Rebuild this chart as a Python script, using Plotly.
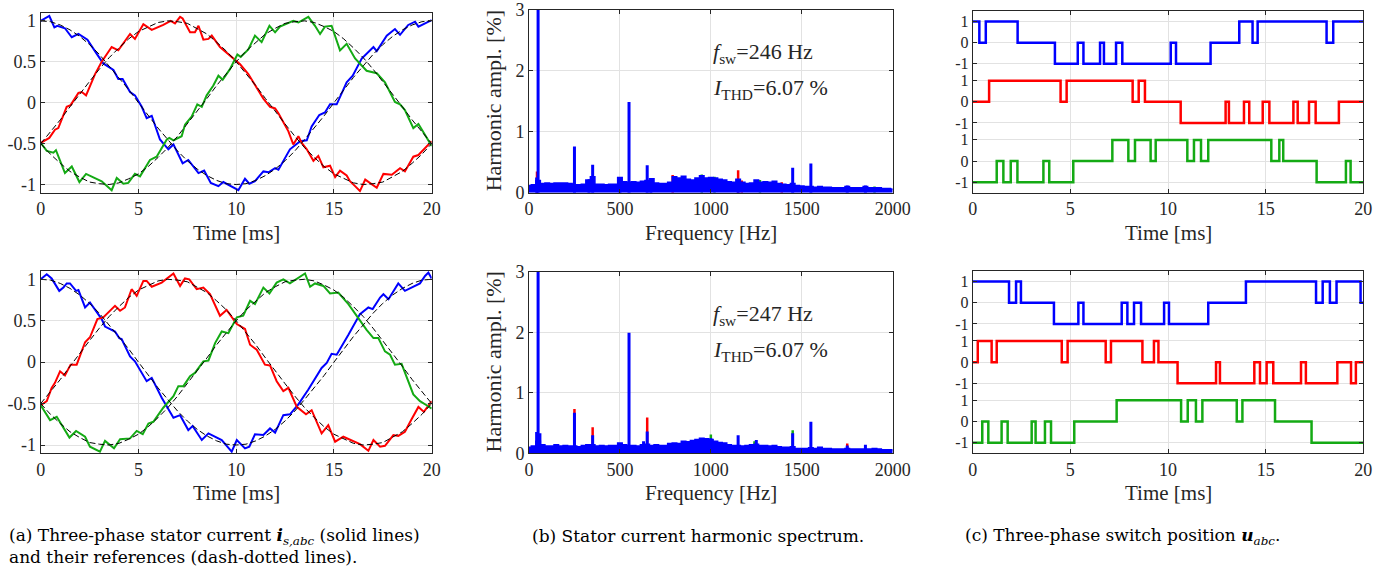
import plotly.graph_objects as go

W, H = 1386, 570
BLUE = 'rgb(0,0,255)'
RED = 'rgb(255,0,0)'
GREEN = 'rgb(20,170,20)'
FONT = 'Liberation Serif'

######################################################## (a) stator currents
# (time [ms], current [pu])
ia_top = [(0, 1.0), (0.44, 1.06), (0.7, 0.92), (0.85, 0.94), (1.24, 0.91), (1.59, 0.80), (1.93, 0.84),
          (2.39, 0.77), (2.86, 0.60), (3.2, 0.48), (3.72, 0.40), (3.97, 0.29), (4.19, 0.29), (4.57, 0.13),
          (4.82, 0.09), (5.17, -0.05), (5.42, -0.19), (5.68, -0.16), (6.1, -0.45), (6.53, -0.57),
          (6.79, -0.51), (7.26, -0.74), (7.55, -0.70), (8.07, -0.86), (8.36, -0.83), (8.7, -0.98),
          (9.09, -1.02), (9.34, -0.97), (10.11, -1.07), (10.45, -0.93), (10.67, -0.99), (10.96, -0.96),
          (11.39, -0.84), (11.65, -0.85), (11.99, -0.80), (12.16, -0.82), (12.75, -0.57), (13.27, -0.47),
          (13.61, -0.46), (13.86, -0.29), (14.25, -0.15), (14.54, -0.12), (14.8, -0.02), (15.14, -0.02),
          (15.65, 0.25), (15.96, 0.33), (16.42, 0.54), (17.02, 0.68), (17.19, 0.63), (17.7, 0.82),
          (18.12, 0.90), (18.38, 0.83), (18.8, 0.95), (19.15, 0.99), (19.32, 0.93), (20, 1.01)]
ib_top = [(0, -0.49), (0.44, -0.43), (0.73, -0.33), (0.9, -0.31), (1.33, -0.05), (1.53, -0.03), (1.93, 0.12),
          (2.1, 0.13), (2.32, 0.09), (2.78, 0.35), (3.12, 0.50), (3.63, 0.68), (3.97, 0.64), (4.26, 0.73),
          (4.57, 0.84), (4.82, 0.78), (5.25, 0.96), (5.68, 0.89), (6.27, 0.95), (6.65, 1.0), (6.87, 0.97),
          (7.13, 1.05), (7.26, 1.03), (7.64, 0.86), (7.89, 0.86), (8.07, 0.94), (8.32, 0.77), (8.58, 0.78),
          (8.75, 0.82), (9.17, 0.68), (9.94, 0.52), (10.2, 0.47), (10.62, 0.35), (10.96, 0.21), (11.39, 0.05),
          (11.73, -0.05), (11.99, -0.07), (12.16, -0.13), (12.67, -0.35), (12.92, -0.51), (13.18, -0.41),
          (13.35, -0.49), (13.61, -0.57), (13.95, -0.71), (14.2, -0.65), (14.46, -0.79), (14.8, -0.77),
          (15.06, -0.91), (15.31, -0.83), (15.65, -0.89), (15.82, -0.96), (16.08, -1.02), (16.33, -1.08),
          (16.6, -0.94), (17.19, -1.04), (17.53, -0.87), (17.96, -0.88), (18.38, -0.80), (18.63, -0.84),
          (19.06, -0.66), (19.32, -0.64), (20, -0.47)]
ic_top = [(0, -0.49), (0.31, -0.59), (0.65, -0.61), (0.78, -0.58), (1.24, -0.86), (1.59, -0.78), (1.98, -0.97),
          (2.32, -0.87), (3.12, -0.96), (3.63, -1.07), (3.89, -0.92), (4.23, -0.99), (4.48, -0.98),
          (4.82, -0.87), (5.08, -0.90), (5.59, -0.70), (5.93, -0.66), (6.45, -0.45), (6.58, -0.43),
          (6.79, -0.46), (7.21, -0.41), (7.38, -0.27), (7.72, -0.17), (8.01, -0.02), (8.24, -0.05),
          (8.49, 0.09), (8.83, 0.21), (9.09, 0.33), (9.31, 0.28), (9.68, 0.41), (10.06, 0.59), (10.23, 0.56),
          (10.62, 0.65), (10.96, 0.82), (11.3, 0.74), (11.7, 0.94), (11.99, 0.86), (12.24, 0.93), (12.92, 1.0),
          (13.18, 0.98), (13.69, 1.05), (14.03, 0.94), (14.29, 0.84), (14.54, 0.93), (14.88, 0.94),
          (15.31, 0.64), (15.65, 0.72), (16.08, 0.54), (16.67, 0.39), (17.19, 0.36), (17.61, 0.25),
          (18.12, 0.01), (18.38, -0.02), (18.63, -0.09), (19.06, -0.31), (19.32, -0.26), (20, -0.53)]

ia_bot = [(0, 1.0), (0.31, 1.06), (0.56, 1.01), (0.95, 0.86), (1.16, 0.90), (1.33, 0.95), (1.5, 0.95),
          (1.81, 0.86), (1.93, 0.87), (2.27, 0.66), (2.52, 0.72), (3.12, 0.52), (3.29, 0.43), (3.8, 0.37),
          (4.02, 0.29), (4.14, 0.28), (4.57, 0.07), (4.82, 0.01), (5.42, -0.23), (5.68, -0.19), (6.19, -0.43),
          (6.53, -0.56), (6.79, -0.67), (7.13, -0.64), (7.55, -0.82), (7.77, -0.77), (8.24, -0.94),
          (8.58, -0.86), (9.26, -0.94), (9.77, -1.08), (10.03, -0.94), (10.45, -1.04), (10.67, -1.02),
          (10.96, -0.87), (11.39, -0.88), (11.73, -0.80), (11.99, -0.85), (12.41, -0.64), (12.75, -0.63),
          (13.18, -0.51), (13.52, -0.39), (13.69, -0.33), (14.37, -0.07), (14.63, -0.01), (14.88, 0.10),
          (15.14, 0.09), (15.74, 0.33), (16.33, 0.58), (16.76, 0.66), (16.98, 0.64), (17.36, 0.78),
          (17.53, 0.82), (17.79, 0.76), (18.29, 0.95), (18.63, 0.86), (19.4, 0.95), (19.66, 1.04),
          (19.83, 1.08), (20, 1.01)]
ib_bot = [(0, -0.52), (0.31, -0.47), (0.56, -0.31), (0.73, -0.25), (0.99, -0.11), (1.24, -0.16), (1.53, -0.03),
          (1.84, -0.03), (2.27, 0.24), (2.52, 0.30), (2.9, 0.52), (3.2, 0.54), (3.8, 0.68), (4.06, 0.62),
          (4.31, 0.66), (4.65, 0.88), (4.91, 0.80), (5.25, 0.98), (5.42, 0.98), (5.68, 0.91), (6.19, 0.96),
          (6.79, 1.07), (7.13, 0.92), (7.38, 1.01), (7.6, 1.0), (7.98, 0.88), (8.32, 0.90), (8.66, 0.82),
          (9.17, 0.56), (9.51, 0.63), (10.03, 0.46), (10.45, 0.40), (10.71, 0.21), (11.05, 0.15),
          (11.47, -0.03), (11.73, -0.04), (12.07, -0.23), (12.41, -0.35), (12.67, -0.31), (13.1, -0.54),
          (13.57, -0.63), (13.86, -0.58), (14.37, -0.86), (14.71, -0.76), (15.06, -0.96), (15.48, -0.90),
          (16.33, -0.99), (16.76, -1.07), (17.02, -0.94), (17.36, -1.02), (17.61, -1.01), (18.04, -0.88),
          (18.29, -0.89), (18.63, -0.84), (18.97, -0.69), (19.32, -0.54), (19.6, -0.60), (20, -0.47)]
ic_bot = [(0, -0.52), (0.48, -0.70), (0.82, -0.66), (1.47, -0.91), (1.81, -0.83), (2.27, -0.90), (2.52, -1.02),
          (3.03, -1.08), (3.29, -0.95), (3.75, -1.04), (4.06, -0.93), (4.57, -0.92), (4.91, -0.83),
          (5.22, -0.87), (5.51, -0.74), (5.76, -0.72), (6.27, -0.55), (6.79, -0.41), (7.04, -0.29),
          (7.3, -0.29), (7.64, -0.17), (7.89, -0.13), (8.32, 0.01), (8.58, 0.02), (8.92, 0.23), (9.26, 0.37),
          (9.6, 0.35), (10.03, 0.54), (10.36, 0.56), (10.71, 0.74), (10.96, 0.70), (11.39, 0.90), (11.7, 0.83),
          (12.07, 0.96), (12.41, 1.0), (12.75, 0.95), (13.52, 1.07), (13.78, 0.91), (14.03, 0.95),
          (14.46, 0.92), (14.8, 0.83), (15.22, 0.84), (15.74, 0.70), (16.25, 0.53), (16.67, 0.39),
          (17.02, 0.29), (17.27, 0.29), (17.61, 0.13), (17.87, 0.09), (18.12, -0.03), (18.46, -0.02),
          (19.06, -0.39), (19.4, -0.47), (19.74, -0.52), (20, -0.56)]

# references, sampled every 0.5 ms
t_ref = [k * 0.5 for k in range(41)]
ref_a = [1, .99, .95, .89, .81, .71, .59, .45, .31, .16, 0, -.16, -.31, -.45, -.59, -.71, -.81, -.89, -.95,
         -.99, -1, -.99, -.95, -.89, -.81, -.71, -.59, -.45, -.31, -.16, 0, .16, .31, .45, .59, .71, .81,
         .89, .95, .99, 1]
ref_b = [-.5, -.36, -.21, -.05, .11, .26, .41, .55, .67, .78, .87, .93, .98, 1, .99, .97, .91, .84, .74,
         .63, .5, .36, .21, .05, -.11, -.26, -.41, -.55, -.67, -.78, -.87, -.93, -.98, -1, -.99, -.97, -.91,
         -.84, -.74, -.63, -.5]
ref_c = [-.5, -.63, -.74, -.84, -.91, -.97, -.99, -1, -.98, -.93, -.87, -.78, -.67, -.55, -.41, -.26, -.11,
         .05, .21, .36, .5, .63, .74, .84, .91, .97, .99, 1, .98, .93, .87, .78, .67, .55, .41, .26, .11,
         -.05, -.21, -.36, -.5]

######################################################## (b) harmonic spectrum
f_grid = list(range(0, 2001, 25))
floor_top = [0.12, 0.13, 0.20, 0.15, 0.16, 0.15, 0.16, 0.16, 0.16, 0.15, 0.13, 0.13, 0.14, 0.21, 0.26, 0.14,
             0.14, 0.13, 0.14, 0.14, 0.25, 0.18, 0.17, 0.18, 0.17, 0.19, 0.20, 0.23, 0.16, 0.15, 0.15, 0.17,
             0.26, 0.24, 0.27, 0.22, 0.21, 0.24, 0.28, 0.24, 0.25, 0.24, 0.22, 0.21, 0.18, 0.17, 0.22, 0.17,
             0.15, 0.16, 0.21, 0.17, 0.18, 0.17, 0.19, 0.15, 0.14, 0.13, 0.15, 0.12, 0.11, 0.10, 0.10, 0.09,
             0.10, 0.09, 0.09, 0.08, 0.08, 0.08, 0.10, 0.08, 0.08, 0.08, 0.10, 0.08, 0.08, 0.08, 0.07, 0.07,
             0.06]
floor_bot = [0.10, 0.12, 0.20, 0.14, 0.12, 0.12, 0.14, 0.12, 0.13, 0.12, 0.12, 0.11, 0.13, 0.14, 0.14, 0.12,
             0.13, 0.12, 0.13, 0.13, 0.17, 0.14, 0.13, 0.13, 0.12, 0.14, 0.15, 0.13, 0.14, 0.13, 0.13, 0.16,
             0.17, 0.16, 0.20, 0.19, 0.21, 0.23, 0.25, 0.24, 0.23, 0.20, 0.18, 0.17, 0.14, 0.13, 0.13, 0.12,
             0.13, 0.14, 0.15, 0.13, 0.13, 0.12, 0.13, 0.11, 0.10, 0.10, 0.11, 0.08, 0.08, 0.08, 0.09, 0.08,
             0.10, 0.08, 0.08, 0.07, 0.07, 0.07, 0.08, 0.07, 0.07, 0.07, 0.07, 0.07, 0.08, 0.07, 0.06, 0.06,
             0.06]
# (frequency [Hz], amplitude [%])
spk_blue_top = [(50, 100), (42, 0.25), (250, 0.76), (330, 0.22), (350, 0.46), (500, 0.25), (550, 1.49),
                (650, 0.45), (670, 0.23), (1150, 0.22), (1450, 0.41), (1550, 0.48), (1750, 0.12), (1850, 0.12)]
spk_red_top = [(44, 0.35), (790, 0.29), (1150, 0.37), (1170, 0.2), (1390, 0.17)]
spk_green_top = [(950, 0.30), (1020, 0.26), (1270, 0.21), (1900, 0.1)]
spk_blue_bot = [(50, 100), (42, 0.35), (60, 0.33), (250, 0.67), (350, 0.30), (500, 0.17), (550, 1.99),
                (630, 0.20), (650, 0.36), (1000, 0.25), (1150, 0.30), (1250, 0.22), (1450, 0.33),
                (1550, 0.52), (1750, 0.13), (1850, 0.14)]
spk_red_bot = [(250, 0.73), (350, 0.43), (650, 0.59), (1750, 0.16)]
spk_green_bot = [(1000, 0.31), (1450, 0.38), (920, 0.22), (1240, 0.2)]

######################################################## (c) switch positions
# (switching instant [ms], new position)
ua_top = [(0, 1), (0.34, 0), (0.67, 1), (2.30, 0), (4.21, -1), (5.38, 0), (5.67, -1), (6.52, 0), (6.72, -1),
          (7.34, 0), (7.66, -1), (10.14, 0), (10.41, -1), (12.18, 0), (13.65, 1), (14.33, 0), (14.59, 1),
          (18.12, 0), (18.46, 1), (20, 1)]
ub_top = [(0, 0), (0.84, 1), (4.5, 0), (4.81, 1), (8.19, 0), (8.50, 1), (8.82, 0), (10.65, -1), (12.95, 0),
          (13.12, -1), (13.89, 0), (14.16, -1), (14.85, 0), (15.19, -1), (16.42, 0), (16.64, -1), (17.22, 0),
          (17.56, -1), (18.75, 0), (20, 0)]
uc_top = [(0, -1), (1.23, 0), (1.57, -1), (1.95, 0), (2.29, -1), (3.62, 0), (3.92, -1), (5.15, 0), (7.15, 1),
          (7.97, 0), (8.31, 1), (9.11, 0), (9.37, 1), (10.99, 0), (11.33, 1), (11.69, 0), (12.06, 1),
          (15.29, 0), (15.70, 1), (15.90, 0), (17.61, -1), (19.11, 0), (19.35, -1), (20, -1)]
ua_bot = [(0, 1), (1.86, 0), (2.22, 1), (2.47, 0), (4.16, -1), (5.41, 0), (5.67, -1), (7.63, 0), (7.92, -1),
          (8.26, 0), (8.62, -1), (9.80, 0), (10.05, -1), (12.06, 0), (13.99, 1), (17.58, 0), (17.92, 1),
          (18.29, 0), (18.63, 1), (19.86, 0), (20, 0)]
ub_bot = [(0, 0), (0.26, 1), (0.97, 0), (1.23, 1), (4.56, 0), (4.86, 1), (6.81, 0), (7.08, 1), (8.69, 0),
          (9.28, 1), (9.51, 0), (10.49, -1), (12.46, 0), (12.66, -1), (14.42, 0), (14.71, -1), (15.05, 0),
          (15.39, -1), (16.81, 0), (17.06, -1), (18.67, 0), (19.37, -1), (19.62, 0), (20, 0)]
uc_bot = [(0, -1), (0.49, 0), (0.80, -1), (1.48, 0), (1.79, -1), (3.02, 0), (3.22, -1), (3.70, 0), (4.01, -1),
          (5.20, 0), (7.37, 1), (10.67, 0), (11.01, 1), (11.43, 0), (11.76, 1), (13.52, 0), (13.81, 1),
          (15.48, 0), (17.35, -1), (20, -1)]
sw_offset = [5.6, 2.8, 0.0]  # vertical stacking of phases a, b, c

fsw_labels = ['246', '247']

######################################################## figure
fig = go.Figure()


def dom_x(a, b):
    return [a / W, b / W]


def dom_y(top, bottom):
    return [1 - bottom / H, 1 - top / H]


def add_stems(pts, color, xa, ya, width=2.5):
    xs, ys = [], []
    for f, a in pts:
        xs += [f, f, None]
        ys += [0, a, None]
    fig.add_trace(go.Scatter(x=xs, y=ys, mode='lines', line=dict(color=color, width=width),
                             xaxis=xa, yaxis=ya, showlegend=False, hoverinfo='skip'))


rows = [
    dict(ia=ia_top, ib=ib_top, ic=ic_top, floor=floor_top, sb=spk_blue_top, sr=spk_red_top,
         sg=spk_green_top, ua=ua_top, ub=ub_top, uc=uc_top),
    dict(ia=ia_bot, ib=ib_bot, ic=ic_bot, floor=floor_bot, sb=spk_blue_bot, sr=spk_red_bot,
         sg=spk_green_bot, ua=ua_bot, ub=ub_bot, uc=uc_bot),
]
row_px = [(12.7, 192.7), (271.0, 453.3)]

axis_common = dict(showline=True, mirror='ticks', linecolor='#262626', linewidth=1, ticks='inside',
                   ticklen=4, tickcolor='#262626', showgrid=True, gridcolor='#e2e2e2', gridwidth=1,
                   zeroline=False, automargin=False, ticklabeloverflow='allow',
                   tickfont=dict(family=FONT, size=18, color='#262626'))
layout_axes = {}
annotations = []
TXT = dict(family=FONT, size=21, color='#262626')


def note(x, y, text, font, **kw):
    d = dict(xref='paper', yref='paper', x=x / W, y=1 - y / H, text=text, showarrow=False,
             xanchor='center', yanchor='middle', font=font)
    d.update(kw)
    annotations.append(d)


for r, d in enumerate(rows):
    top, bot = row_px[r]
    n = 3 * r
    ax = [str(n + 1), str(n + 2), str(n + 3)]
    # ---- currents
    xa, ya = 'x' + ax[0], 'y' + ax[0]
    for pts, c in [(d['ia'], BLUE), (d['ib'], RED), (d['ic'], GREEN)]:
        fig.add_trace(go.Scatter(x=[p[0] for p in pts], y=[p[1] for p in pts], mode='lines',
                                 line=dict(color=c, width=2), xaxis=xa, yaxis=ya, showlegend=False))
    for ref in [ref_a, ref_b, ref_c]:
        fig.add_trace(go.Scatter(x=t_ref, y=ref, mode='lines', line=dict(color='black', width=1, dash='6px,3px'),
                                 xaxis=xa, yaxis=ya, showlegend=False))
    layout_axes['xaxis' + ax[0]] = dict(axis_common, domain=dom_x(40.7, 431.7), anchor='y' + ax[0],
                                        range=[0, 20], tickvals=[0, 5, 10, 15, 20])
    layout_axes['yaxis' + ax[0]] = dict(axis_common, domain=dom_y(top, bot), anchor='x' + ax[0],
                                        range=[-1.1, 1.1], tickvals=[-1, -0.5, 0, 0.5, 1],
                                        ticktext=['-1', '-0.5', '0', '0.5', '1'])
    # ---- spectrum
    xa, ya = 'x' + ax[1], 'y' + ax[1]
    add_stems(d['sr'], RED, xa, ya)
    add_stems(d['sg'], GREEN, xa, ya)
    fig.add_trace(go.Scatter(x=f_grid, y=d['floor'], mode='lines', line=dict(color=BLUE, width=1.5, shape='hvh'),
                             fill='tozeroy', fillcolor=BLUE, xaxis=xa, yaxis=ya, showlegend=False))
    add_stems(d['sb'], BLUE, xa, ya, width=3)
    top2 = 10.0 if r == 0 else 271.7
    layout_axes['xaxis' + ax[1]] = dict(axis_common, domain=dom_x(529, 892.7), anchor='y' + ax[1],
                                        range=[0, 2000], tickvals=[0, 500, 1000, 1500, 2000])
    layout_axes['yaxis' + ax[1]] = dict(axis_common, domain=dom_y(top2, bot), anchor='x' + ax[1],
                                        range=[0, 3], tickvals=[0, 1, 2, 3])
    # ---- switch positions
    xa, ya = 'x' + ax[2], 'y' + ax[2]
    for pts, c, off in [(d['ua'], BLUE, sw_offset[0]), (d['ub'], RED, sw_offset[1]), (d['uc'], GREEN, sw_offset[2])]:
        fig.add_trace(go.Scatter(x=[p[0] for p in pts], y=[p[1] + off for p in pts], mode='lines',
                                 line=dict(color=c, width=2.5, shape='hv'), xaxis=xa, yaxis=ya, showlegend=False))
    tv, tt = [], []
    for off in sw_offset[::-1]:
        tv += [off - 1, off, off + 1]
        tt += ['-1', '0', '1']
    top3 = 11.0 if r == 0 else 271.0
    layout_axes['xaxis' + ax[2]] = dict(axis_common, domain=dom_x(972.7, 1363.3), anchor='y' + ax[2],
                                        range=[0, 20], tickvals=[0, 5, 10, 15, 20])
    layout_axes['yaxis' + ax[2]] = dict(axis_common, domain=dom_y(top3, bot), anchor='x' + ax[2],
                                        range=[-1.5, 7.1], tickvals=tv, ticktext=tt,
                                        tickfont=dict(family=FONT, size=16, color='#262626'))

    # axis titles
    ty = bot + 40
    for cx, txt in [(236, 'Time [ms]'), (711, 'Frequency [Hz]'), (1168, 'Time [ms]')]:
        note(cx, ty, txt, TXT)
    note(493, (top2 + bot) / 2, 'Harmonic ampl. [%]', dict(TXT, size=22), textangle=-90)
    note(711, top2 + 43, '<i>f</i><sub>sw</sub>=' + fsw_labels[r] + ' Hz', dict(TXT, size=22), xanchor='left')
    note(711, top2 + 79, '<i>I</i><sub>THD</sub>=6.07 %', dict(TXT, size=22), xanchor='left')

# captions
cap_font = dict(family='DejaVu Serif', size=17, color='black')
captions = [
    (7, 536, '(a) Three-phase stator current <b><i>i</i></b><sub><i>s,abc</i></sub> (solid lines)'),
    (7, 557, 'and their references (dash-dotted lines).'),
    (530, 536, '(b) Stator current harmonic spectrum.'),
    (963, 536, '(c) Three-phase switch position <b><i>u</i></b><sub><i>abc</i></sub>.'),
]
for cx, cy, txt in captions:
    note(cx, cy, txt, cap_font, xanchor='left', align='left')

fig.update_layout(width=W, height=H, margin=dict(l=0, r=0, t=0, b=0), autosize=False,
                  plot_bgcolor='white', paper_bgcolor='white', showlegend=False,
                  annotations=annotations, **layout_axes)

# drop the default 8 px page margin so the figure sits at the window's corner
fig.write_html("out.html", config={'displayModeBar': False},
               post_script="document.body.style.margin = '0px';")
